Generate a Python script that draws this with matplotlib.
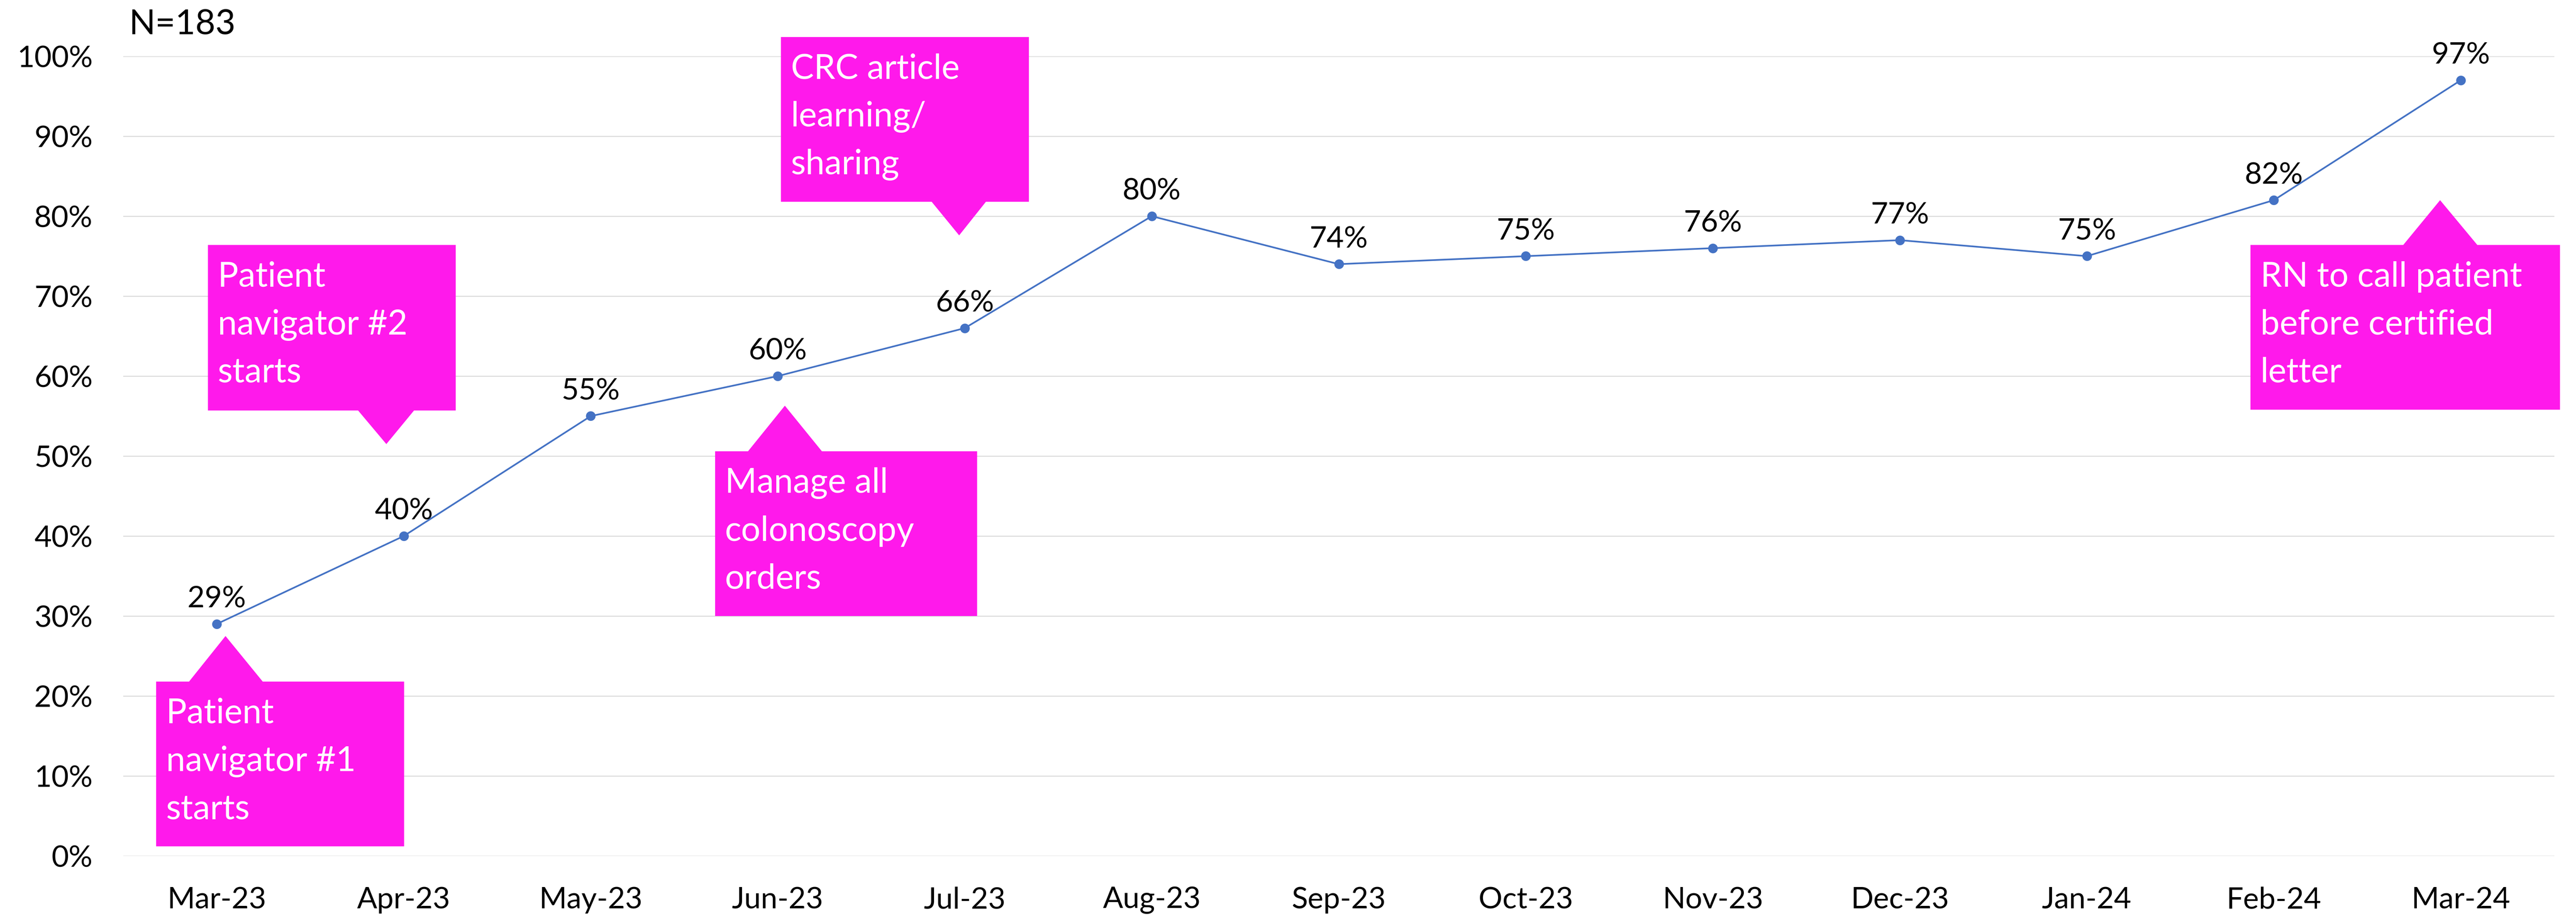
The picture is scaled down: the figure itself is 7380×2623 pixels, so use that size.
import matplotlib.pyplot as plt
from matplotlib.patches import Polygon
from matplotlib.ticker import PercentFormatter

plt.rcParams['font.family'] = ['Lato', 'DejaVu Sans']

months = ['Mar-23', 'Apr-23', 'May-23', 'Jun-23', 'Jul-23', 'Aug-23', 'Sep-23',
          'Oct-23', 'Nov-23', 'Dec-23', 'Jan-24', 'Feb-24', 'Mar-24']
values = [29, 40, 55, 60, 66, 80, 74, 75, 76, 77, 75, 82, 97]

# callouts: text lines, box (x0, x1, ytop, ybottom), pointer (base x0, base x1, tip x, tip y)
callout_text = [
    ['Patient', 'navigator #1', 'starts'],
    ['Patient', 'navigator #2', 'starts'],
    ['Manage all', 'colonoscopy', 'orders'],
    ['CRC article', 'learning/', 'sharing'],
    ['RN to call patient', 'before certified', 'letter'],
]
callout_box = [(-0.324, 1.002, 21.8, 1.2), (-0.047, 1.278, 76.4, 55.7),
               (2.665, 4.066, 50.6, 30.0), (3.017, 4.343, 102.4, 81.8),
               (10.875, 12.53, 76.4, 55.8)]
callout_tip = [(-0.148, 0.246, 0.047, 27.5), (0.756, 1.055, 0.907, 51.5),
               (2.841, 3.236, 3.038, 56.3), (3.823, 4.113, 3.970, 77.6),
               (11.692, 12.088, 11.889, 82.0)]

magenta = '#FF19EB'
blue = '#4472C4'

fig = plt.figure(figsize=(24.6, 2623 / 300), dpi=300)
ax = fig.add_axes([353 / 7380, 1 - 2451 / 2623, (7318 - 353) / 7380, (2451 - 161) / 2623])

x = list(range(len(months)))
ax.plot(x, values, color=blue, lw=1.15, marker='o', ms=5.6, zorder=4)
for xi, v in zip(x, values):
    ax.annotate(f'{v}%', (xi, v), xytext=(0, 11.3), textcoords='offset points',
                ha='center', va='baseline', fontsize=20.5, color='black', zorder=5)

ax.set_xlim(-0.5, len(months) - 0.5)
ax.set_ylim(0, 100)
ax.set_yticks(range(0, 101, 10))
ax.yaxis.set_major_formatter(PercentFormatter(decimals=0))
ax.set_xticks(x)
ax.set_xticklabels(months)
ax.tick_params(axis='both', length=0, labelsize=20.5, colors='black')
ax.tick_params(axis='x', pad=21)
ax.tick_params(axis='y', pad=21)
ax.grid(axis='y', color='#D9D9D9', lw=0.65, zorder=0)
ax.set_axisbelow(True)
for s in ax.spines.values():
    s.set_visible(False)

for lines, (x0, x1, yt, yb), (b0, b1, tx, ty) in zip(callout_text, callout_box, callout_tip):
    if ty > yt:
        pts = [(x0, yb), (x0, yt), (b0, yt), (tx, ty), (b1, yt), (x1, yt), (x1, yb)]
    else:
        pts = [(x0, yt), (x1, yt), (x1, yb), (b1, yb), (tx, ty), (b0, yb), (x0, yb)]
    ax.add_patch(Polygon(pts, closed=True, facecolor=magenta, edgecolor='none',
                         clip_on=False, zorder=3))
    for i, line in enumerate(lines):
        ax.annotate(line, (x0, yt), xytext=(6.8, -28.6 - 32.9 * i), textcoords='offset points',
                    ha='left', va='baseline', fontsize=23.6, color='white', zorder=6,
                    annotation_clip=False)

fig.text(370 / 7380, 1 - 98 / 2623, 'N=183', fontsize=23.8, color='black',
         ha='left', va='baseline')

fig.savefig('out.png', dpi=300)
